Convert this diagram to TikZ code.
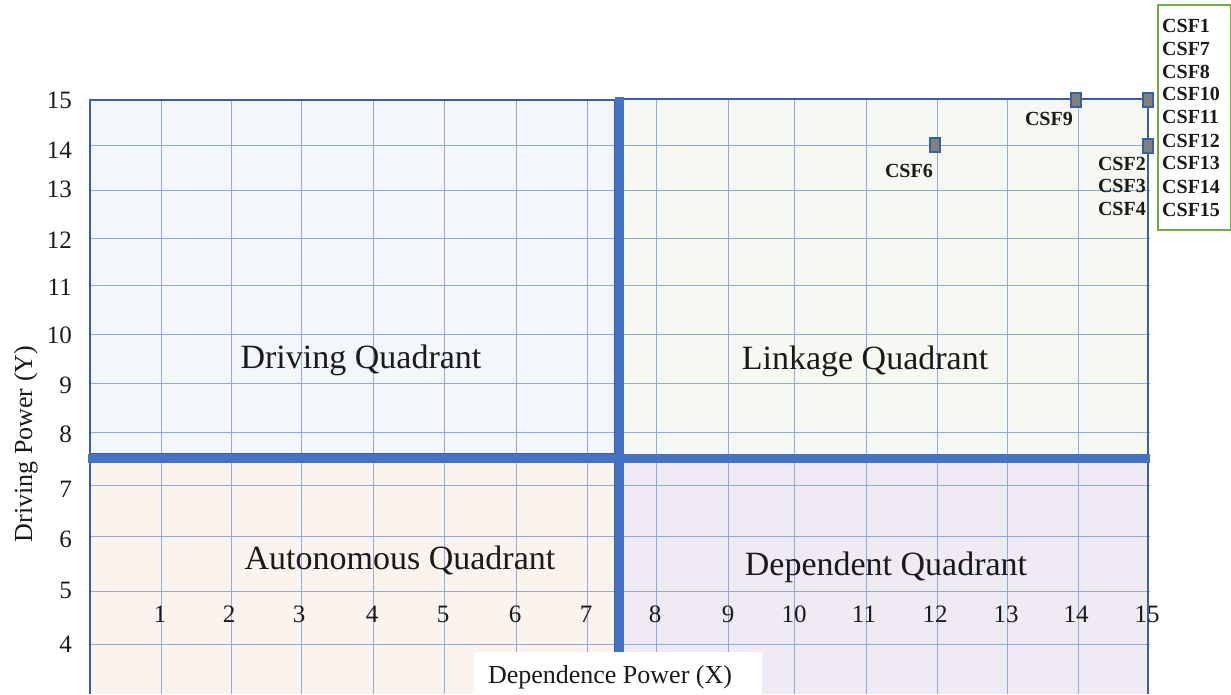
\documentclass[tikz,border=0pt]{standalone}
\usepackage{fontspec}
\setmainfont{Liberation Serif}
\definecolor{fillTL}{RGB}{243,246,251}
\definecolor{fillTR}{RGB}{245,249,241}
\definecolor{fillBL}{RGB}{251,243,238}
\definecolor{fillBR}{RGB}{239,234,244}
\definecolor{gridblue}{RGB}{143,170,220}
\definecolor{frameblue}{RGB}{68,114,196}
\definecolor{darkframe}{RGB}{58,95,165}
\definecolor{markgrey}{RGB}{128,128,128}
\definecolor{boxgreen}{RGB}{112,173,71}
\definecolor{inkblack}{RGB}{26,26,26}
\tikzset{
  quadfill/.style={draw=darkframe, line width=1.6pt},
  gridline/.style={draw=gridblue, line width=1pt},
  divider/.style={draw=frameblue, line width=9pt},
  marker/.style={rectangle, minimum width=10pt, minimum height=14pt, inner sep=0pt,
                 fill=markgrey, draw=darkframe, line width=1.4pt},
  quadlabel/.style={anchor=base, inner sep=0pt, text=inkblack,
                    font=\fontsize{34}{40}\selectfont},
  ticklabel/.style={inner sep=0pt, text=inkblack, font=\fontsize{25}{30}\selectfont},
  csflabel/.style={inner sep=0pt, text=inkblack, font=\fontsize{20}{23}\selectfont\bfseries},
  axistitle/.style={inner sep=0pt, text=inkblack, font=\fontsize{26}{30}\selectfont},
}
\begin{document}
\begin{tikzpicture}[x=1pt,y=-1pt]
\useasboundingbox (0,0) rectangle (1231,694);

% quadrant backgrounds
\fill[fillTL] (90,100) rectangle (615,454);
\fill[fillTR] (623,100) rectangle (1148,454);
\fill[fillBL] (90,462) rectangle (615,694);
\fill[fillBR] (623,462) rectangle (1148,694);

% grid
\foreach \gx in {161,231,301,373,444,516,587,656,728,794,866,937,1007,1078}
  \draw[gridline] (\gx,100) -- (\gx,694);
\foreach \gy in {145,190,238,285,334,383,432,485,536,591,644}
  \draw[gridline] (90,\gy) -- (1150,\gy);

% quadrant frames
\draw[quadfill] (90,694) -- (90,100) -- (615,100) -- (615,454) -- (90,454);
\draw[quadfill] (623,454) -- (623,99) -- (1148,99) -- (1148,694);
\draw[quadfill] (90,462) -- (615,462) -- (615,694);
\draw[quadfill] (623,694) -- (623,462) -- (1148,462);

% thick quadrant dividers
\draw[divider] (619,97) -- (619,694);
\draw[divider] (88,458) -- (1150,458);

% quadrant names
\node[quadlabel] (qdrv) at (361,368) {Driving Quadrant};
\node[quadlabel] (qlnk) at (865,369) {Linkage Quadrant};
\node[quadlabel] (qaut) at (400,569) {Autonomous Quadrant};
\node[quadlabel] (qdep) at (886,575) {Dependent Quadrant};

% vertical axis ticks
\foreach \v/\by in {15/108,14/158,13/197,12/248,11/295,10/343,9/393,8/442,7/497,6/547,5/598,4/652}
  \node[ticklabel, anchor=base east] (yt\v) at (72,\by) {\v};

% horizontal axis ticks
\foreach \v/\tx in {1/160,2/229,3/299,4/372,5/443,6/515,7/586,8/655,9/728,10/794,11/864,12/935,13/1006,14/1076,15/1147}
  \node[ticklabel, anchor=base] (xt\v) at (\tx,622) {\v};

% axis titles
\node[axistitle, rotate=90, anchor=base] (ytitle) at (32,444) {Driving Power (Y)};
\node[fill=white, minimum width=288pt, minimum height=42pt, inner sep=0pt, anchor=north west]
  (xbox) at (474,652) {};
\node[axistitle, anchor=base] (xtitle) at (610,683) {Dependence Power (X)};

% plotted factors
\node[marker] (m6) at (935,145) {};
\node[marker] (m9) at (1076,100) {};
\node[marker] (mtop) at (1148,100) {};
\node[marker] (mside) at (1148,146) {};

\node[csflabel, anchor=base east] (l6) at (933,177) {CSF6};
\node[csflabel, anchor=base east] (l9) at (1073,125) {CSF9};
\node[csflabel, anchor=base east] (l2) at (1146,170) {CSF2};
\node[csflabel, anchor=base east] (l3) at (1146,192) {CSF3};
\node[csflabel, anchor=base east] (l4) at (1146,215) {CSF4};

% list of factors sharing the top-right point
\node[draw=boxgreen, line width=1.6pt, minimum width=73pt, minimum height=225pt,
      inner sep=0pt, anchor=north west] (group) at (1157,4) {};
\foreach \name/\by in {CSF1/32,CSF7/55,CSF8/78,CSF10/100,CSF11/123,CSF12/147,CSF13/169,CSF14/193,CSF15/216}
  \node[csflabel, anchor=base west] (g\name) at (1162,\by) {\name};
\end{tikzpicture}
\end{document}
